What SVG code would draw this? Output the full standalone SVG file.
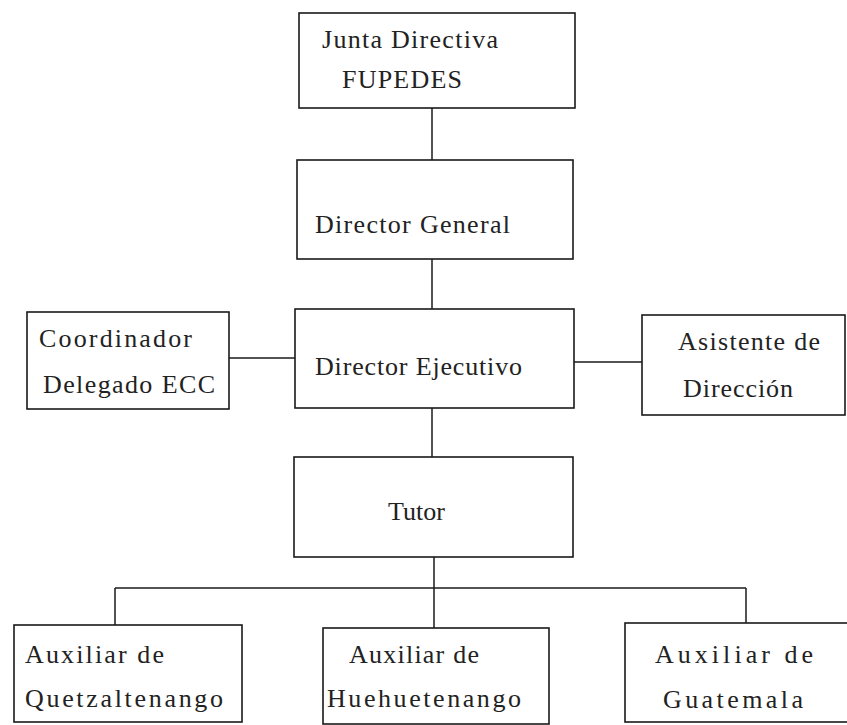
<svg xmlns="http://www.w3.org/2000/svg" width="847" height="725" viewBox="0 0 847 725">
<style>
.box{fill:#fff;stroke:#1a1a1a;stroke-width:1.6}
.t{font-family:"Liberation Serif","DejaVu Serif",serif;font-size:26px;fill:#222}
.c{stroke:#1a1a1a;stroke-width:1.5;fill:none}
</style>
<rect width="847" height="725" fill="#fff"/>
<g id="connectors">
<line class="c" x1="432" y1="108" x2="432" y2="160"/>
<line class="c" x1="432" y1="259" x2="432" y2="309"/>
<line class="c" x1="229" y1="358" x2="295" y2="358"/>
<line class="c" x1="574" y1="362" x2="642" y2="362"/>
<line class="c" x1="432" y1="408" x2="432" y2="457"/>
<line class="c" x1="434" y1="557" x2="434" y2="628"/>
<line class="c" x1="115" y1="588" x2="746" y2="588"/>
<line class="c" x1="115" y1="588" x2="115" y2="625"/>
<line class="c" x1="746" y1="588" x2="746" y2="623"/>
</g>
<g id="junta">
<rect class="box" x="299" y="13" width="276" height="95"/>
<text class="t" x="322" y="48" textLength="176" lengthAdjust="spacing">Junta Directiva</text>
<text class="t" x="342" y="88" textLength="120" lengthAdjust="spacing">FUPEDES</text>
</g>
<g id="director-general">
<rect class="box" x="297" y="160" width="276" height="99"/>
<text class="t" x="315" y="233" textLength="195" lengthAdjust="spacing">Director General</text>
</g>
<g id="director-ejecutivo">
<rect class="box" x="295" y="309" width="279" height="99"/>
<text class="t" x="315" y="375" textLength="207" lengthAdjust="spacing">Director Ejecutivo</text>
</g>
<g id="coordinador">
<rect class="box" x="27" y="312" width="202" height="97"/>
<text class="t" x="39" y="347" textLength="153" lengthAdjust="spacing">Coordinador</text>
<text class="t" x="43" y="393" textLength="172" lengthAdjust="spacing">Delegado ECC</text>
</g>
<g id="asistente">
<rect class="box" x="642" y="315" width="203" height="100"/>
<text class="t" x="678" y="350" textLength="142" lengthAdjust="spacing">Asistente de</text>
<text class="t" x="683" y="397" textLength="110" lengthAdjust="spacing">Dirección</text>
</g>
<g id="tutor">
<rect class="box" x="294" y="457" width="279" height="100"/>
<text class="t" x="388" y="520" textLength="57" lengthAdjust="spacing">Tutor</text>
</g>
<g id="aux-quetzaltenango">
<rect class="box" x="14" y="625" width="228" height="97"/>
<text class="t" x="25" y="663" textLength="139" lengthAdjust="spacing">Auxiliar de</text>
<text class="t" x="25" y="707" textLength="198" lengthAdjust="spacing">Quetzaltenango</text>
</g>
<g id="aux-huehuetenango">
<rect class="box" x="323" y="628" width="226" height="96"/>
<text class="t" x="349" y="663" textLength="130" lengthAdjust="spacing">Auxiliar de</text>
<text class="t" x="327" y="707" textLength="194" lengthAdjust="spacing">Huehuetenango</text>
</g>
<g id="aux-guatemala">
<rect class="box" x="625" y="623" width="232" height="99"/>
<text class="t" x="655" y="663" textLength="158" lengthAdjust="spacing">Auxiliar de</text>
<text class="t" x="663" y="708" textLength="140" lengthAdjust="spacing">Guatemala</text>
</g>
</svg>
